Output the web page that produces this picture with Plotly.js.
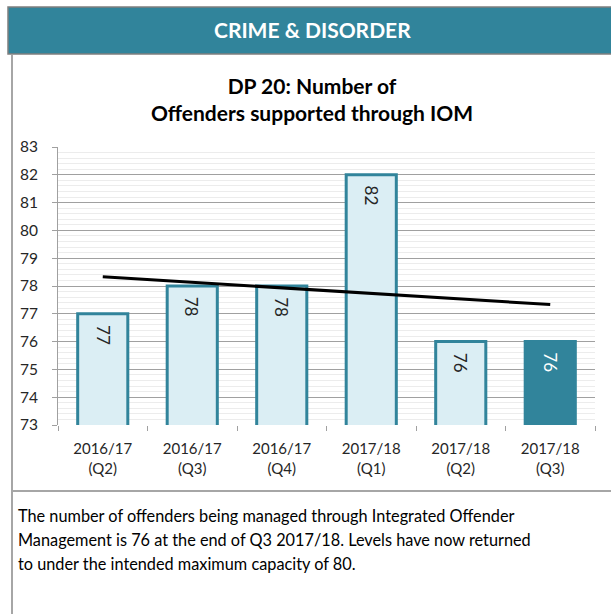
<!DOCTYPE html>
<html>
<head>
<meta charset="utf-8">
<script src="https://cdn.plot.ly/plotly-3.0.1.min.js"></script>
<style>
html,body{margin:0;padding:0;background:#fff;}
#chart{width:611px;height:614px;}
</style>
</head>
<body>
<div id="chart"></div>
<script>
// ---- data ----
const categories = ["2016/17<br>(Q2)", "2016/17<br>(Q3)", "2016/17<br>(Q4)", "2017/18<br>(Q1)", "2017/18<br>(Q2)", "2017/18<br>(Q3)"];
const offenders = [77, 78, 78, 82, 76, 76];
const yTickValues = [73, 74, 75, 76, 77, 78, 79, 80, 81, 82, 83];
const headerText = "CRIME & DISORDER";
const chartTitle = "DP 20: Number of<br>Offenders supported through IOM";
const commentary = [
  "The number of offenders being managed through Integrated Offender",
  "Management is 76 at the end of Q3 2017/18. Levels have now returned",
  "to under the intended maximum capacity of 80."
];

// linear trendline (least squares, like Excel)
const n = offenders.length;
const mx = (n - 1) / 2;
const my = offenders.reduce((a, b) => a + b, 0) / n;
let sxy = 0, sxx = 0;
offenders.forEach((v, i) => { sxy += (i - mx) * (v - my); sxx += (i - mx) * (i - mx); });
const slope = sxy / sxx;
const intercept = my - slope * mx;
const trendY = [intercept, intercept + slope * (n - 1)];
const trendX = [categories[0], categories[n - 1]];

// ---- styling ----
const FONT = "Lato, 'Open Sans', sans-serif";
const TEAL = "#31849B";
const LIGHT = "#DBEEF4";
const W = 611, H = 614;
const L = 58, R = 16, T = 147, B = 189;
const PW = W - L - R, PH = H - T - B;
const X = px => (px - L) / PW;
const Y = py => (H - B - py) / PH;

const fills = offenders.map((v, i) => i === n - 1 ? TEAL : LIGHT);
const textCols = offenders.map((v, i) => i === n - 1 ? "#FFFFFF" : "#262626");

const bars = {
  type: "bar",
  x: categories,
  y: offenders,
  base: 0,
  width: 0.56,
  marker: { color: fills, line: { color: TEAL, width: 3 } },
  hoverinfo: "x+y",
  showlegend: false
};

const trend = {
  type: "scatter",
  mode: "lines",
  x: trendX,
  y: trendY,
  line: { color: "#000000", width: 3 },
  hoverinfo: "skip",
  showlegend: false
};

const annotations = [
  { xref: "paper", yref: "paper", x: X(312), y: Y(30), xanchor: "center", yanchor: "middle",
    text: "<b>" + headerText.replace("&", "&amp;") + "</b>", showarrow: false,
    font: { family: FONT, size: 21, color: "#FFFFFF" } }
];
// data labels, rotated, near the top inside each bar
offenders.forEach((v, i) => {
  annotations.push({ xref: "x", yref: "y", x: categories[i], y: v, yshift: -21,
    xanchor: "center", yanchor: "middle", textangle: 90, showarrow: false,
    text: String(v), font: { family: FONT, size: 17, color: textCols[i] } });
});
commentary.forEach((line, i) => {
  annotations.push({ xref: "paper", yref: "paper", x: X(16), y: Y(515 + 24 * i),
    xanchor: "left", yanchor: "middle", text: line, showarrow: false, align: "left",
    font: { family: FONT, size: 16.3, color: "#000000" } });
});

const shapes = [
  { type: "rect", xref: "paper", yref: "paper", x0: X(8), x1: X(613), y0: Y(54), y1: Y(7),
    fillcolor: TEAL, line: { color: "#7F7F7F", width: 1.5 }, layer: "below" },
  { type: "line", xref: "paper", yref: "paper", x0: X(12), x1: X(12), y0: Y(55), y1: Y(616),
    line: { color: "#A6A6A6", width: 2 } },
  { type: "line", xref: "paper", yref: "paper", x0: X(12), x1: X(613), y0: Y(491), y1: Y(491),
    line: { color: "#A6A6A6", width: 2 } }
];

const layout = {
  width: W, height: H,
  margin: { l: L, r: R, t: T, b: B, pad: 0 },
  paper_bgcolor: "#FFFFFF",
  plot_bgcolor: "#FFFFFF",
  font: { family: FONT, size: 15, color: "#262626" },
  title: { text: "<b>" + chartTitle + "</b>", xref: "paper", x: X(312), xanchor: "center",
           yref: "container", y: 1 - 94 / H, yanchor: "middle",
           font: { family: FONT, size: 21, color: "#000000" } },
  xaxis: {
    type: "category",
    tickson: "boundaries",
    ticks: "outside", ticklen: 5, tickcolor: "#A0A0A0",
    ticklabelstandoff: 13,
    showline: false, showgrid: false,
    tickfont: { family: FONT, size: 15, color: "#262626" },
    fixedrange: true
  },
  yaxis: {
    range: [73, 83],
    tickmode: "array",
    tickvals: yTickValues,
    ticks: "outside", ticklen: 5, tickcolor: "#A0A0A0",
    ticklabelstandoff: 11,
    showline: true, linecolor: "#A0A0A0", linewidth: 1,
    showgrid: true, gridcolor: "#A0A0A0", gridwidth: 1,
    zeroline: false,
    minor: { dtick: 0.2, showgrid: true, gridcolor: "#ECECEC", gridwidth: 1 },
    tickfont: { family: FONT, size: 15.5, color: "#262626" },
    fixedrange: true
  },
  annotations: annotations,
  shapes: shapes
};

Plotly.newPlot("chart", [bars, trend], layout, { displayModeBar: false, staticPlot: true });
</script>
</body>
</html>
